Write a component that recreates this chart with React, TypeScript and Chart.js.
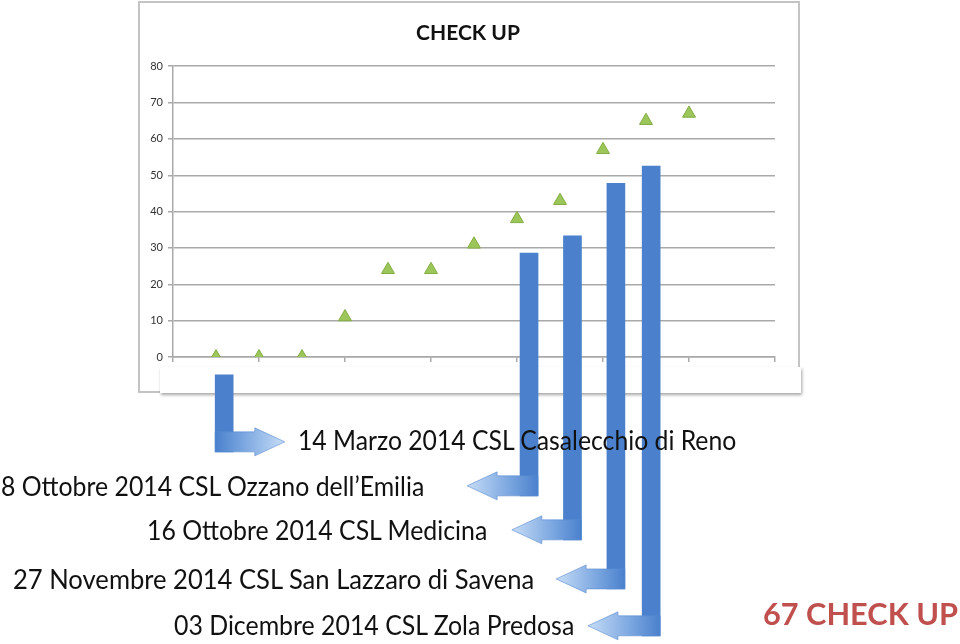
import React, { useEffect, useRef } from "react";
import { Chart, registerables } from "chart.js";

Chart.register(...registerables);

// ---- data ----
const checkupSlots = [1, 2, 3, 4, 5, 6, 7, 8, 9, 10, 11, 12];
const checkupTotals = [0, 0, 0, 11, 24, 24, 31, 38, 43, 57, 65, 67];
const yMin = 0;
const yMax = 80;
const yStep = 10;
const xMin = 0;
const xMax = 14;
const xStep = 2;

// elbow arrows (in chart units): slot of the vertical bar, top value, bottom value, arrow tip slot
const arrowSlot = [1.19, 8.28, 9.29, 10.3, 11.12];
const arrowTop = [-4.9, 28.6, 33.3, 47.8, 52.5];
const arrowBottom = [-26.1, -38.2, -50.3, -63.8, -76.7];
const arrowTip = [2.6, 6.84, 7.88, 8.91, 9.65];

const eventLabels = [
  "14 Marzo 2014 CSL Casalecchio di Reno",
  "8 Ottobre 2014 CSL Ozzano dell\u2019Emilia",
  "16 Ottobre 2014 CSL Medicina",
  "27 Novembre 2014 CSL San Lazzaro di Savena",
  "03 Dicembre 2014 CSL Zola Predosa",
];
const totalLabel = "67 CHECK UP";
const chartTitle = "CHECK UP";

// ---- layout of text overlays (pixels) ----
const labelBoxes = [
  { left: 298, right: 737, baseline: 450, size: 26 },
  { left: 1, right: 425, baseline: 496, size: 26 },
  { left: 147, right: 488, baseline: 540, size: 26 },
  { left: 13, right: 535, baseline: 589, size: 26 },
  { left: 174, right: 575, baseline: 635, size: 26 },
];
const totalBox = { left: 763, right: 958, baseline: 625, size: 31 };

const FONT = "Lato, 'Noto Sans', sans-serif";
const BAR_W = 18;

let measureCtx: CanvasRenderingContext2D | null = null;
function textWidth(text: string, font: string) {
  if (!measureCtx) measureCtx = document.createElement("canvas").getContext("2d");
  measureCtx!.font = font;
  return measureCtx!.measureText(text).width;
}

function FitText(props: { text: string; box: any; bold?: boolean; color: string }) {
  const { text, box, bold, color } = props;
  const weight = bold ? "700" : "400";
  const w = textWidth(text, `${weight} ${box.size}px Lato`);
  const sx = w > 0 ? (box.right - box.left) / w : 1;
  return (
    <div
      style={{
        position: "absolute",
        left: box.left,
        top: box.baseline - 0.887 * box.size,
        fontFamily: FONT,
        fontSize: box.size,
        fontWeight: bold ? 700 : 400,
        lineHeight: `${box.size}px`,
        color,
        whiteSpace: "nowrap",
        transform: `scaleX(${sx})`,
        transformOrigin: "left top",
        zIndex: 3,
      }}
    >
      {text}
    </div>
  );
}

const elbowPlugin = {
  id: "elbowArrows",
  afterDatasetsDraw(chart: any) {
    const xs = chart.scales.x;
    const ys = chart.scales.y;
    const ctx = chart.ctx as CanvasRenderingContext2D;
    ctx.save();
    arrowSlot.forEach((s, i) => {
      const cx = xs.getPixelForValue(s);
      const tip = xs.getPixelForValue(arrowTip[i]);
      const dir = tip > cx ? 1 : -1;
      const yb = ys.getPixelForValue(arrowBottom[i]);
      const armH = 20;
      const yc = yb - armH / 2;
      const back = cx - dir * (BAR_W / 2);
      const headLen = 30;
      const headHalf = 14;
      const base = tip - dir * headLen;
      const g = ctx.createLinearGradient(tip, 0, back, 0);
      g.addColorStop(0, "#c6dcf6");
      g.addColorStop(0.6, "#7aa6e0");
      g.addColorStop(1, "#4a80cc");
      ctx.fillStyle = g;
      ctx.beginPath();
      ctx.moveTo(back, yc - armH / 2);
      ctx.lineTo(base, yc - armH / 2);
      ctx.lineTo(base, yc - headHalf);
      ctx.lineTo(tip, yc);
      ctx.lineTo(base, yc + headHalf);
      ctx.lineTo(base, yc + armH / 2);
      ctx.lineTo(back, yc + armH / 2);
      ctx.closePath();
      ctx.fill();
      ctx.strokeStyle = "rgba(90,140,210,0.6)";
      ctx.lineWidth = 1;
      ctx.stroke();
    });
    ctx.restore();
  },
};

export default function App() {
  const ref = useRef<HTMLCanvasElement | null>(null);

  useEffect(() => {
    if (!ref.current) return;
    const chart = new Chart(ref.current, {
      type: "scatter",
      data: {
        datasets: [
          {
            type: "scatter",
            label: "Check up",
            data: checkupSlots.map((x, i) => ({ x, y: checkupTotals[i] })),
            pointStyle: "triangle",
            radius: 7.5,
            backgroundColor: "#9cc65a",
            borderColor: "#82ad42",
            borderWidth: 1,
            showLine: false,
            order: 0,
          } as any,
          {
            type: "bar",
            label: "Eventi",
            data: arrowSlot.map((x, i) => ({ x, y: [arrowBottom[i], arrowTop[i]] })),
            backgroundColor: "#4a80cc",
            barThickness: BAR_W,
            clip: false,
            order: 1,
          } as any,
        ],
      },
      options: {
        responsive: false,
        animation: false,
        layout: { padding: { left: 130, right: 154, top: 21, bottom: 279 } },
        plugins: {
          legend: { display: false },
          tooltip: { enabled: false },
          title: {
            display: true,
            text: chartTitle,
            color: "#111",
            font: { family: FONT, size: 21, weight: "bold" },
            padding: { top: 0, bottom: 20 },
          },
        },
        scales: {
          x: {
            type: "linear",
            min: xMin,
            max: xMax,
            offset: false,
            ticks: { stepSize: xStep, display: false },
            grid: {
              offset: false,
              drawOnChartArea: false,
              drawTicks: true,
              tickLength: 5,
              color: "#a9a9a9",
              lineWidth: 1.5,
            },
            border: { display: true, color: "#a9a9a9", width: 1.5 },
            afterFit: (s: any) => {
              s.height = 8;
            },
          },
          y: {
            min: yMin,
            max: yMax,
            beginAtZero: true,
            ticks: {
              stepSize: yStep,
              padding: 5,
              color: "#333",
              font: { family: FONT, size: 11 },
            },
            grid: { color: "#a9a9a9", lineWidth: 1.5, tickLength: 5 },
            border: { display: true, color: "#a9a9a9", width: 1.5 },
            afterFit: (s: any) => {
              s.width = 43;
            },
          },
          yRight: {
            type: "linear",
            position: "right",
            display: true,
            min: yMin,
            max: yMax,
            ticks: { display: false },
            grid: { display: false, drawTicks: false },
            border: { display: false },
            afterFit: (s: any) => {
              s.width = 31;
            },
          },
        },
      } as any,
      plugins: [elbowPlugin],
    });
    return () => chart.destroy();
  }, []);

  return (
    <div
      style={{
        position: "fixed",
        left: 0,
        top: 0,
        width: 960,
        height: 644,
        background: "#fff",
        overflow: "hidden",
      }}
    >
      <div
        style={{
          position: "absolute",
          left: 138,
          top: 1,
          width: 662,
          height: 392,
          boxSizing: "border-box",
          border: "2px solid #c4c4c4",
          zIndex: 0,
        }}
      />
      <div
        style={{
          position: "absolute",
          left: 160,
          top: 367,
          width: 641,
          height: 26,
          background: "#fff",
          boxShadow: "1px 2px 3px rgba(0,0,0,0.35)",
          zIndex: 1,
        }}
      />
      <canvas
        ref={ref}
        width={960}
        height={644}
        style={{ position: "absolute", left: 0, top: 0, width: 960, height: 644, zIndex: 2 }}
      />
      {eventLabels.map((t, i) => (
        <FitText key={i} text={t} box={labelBoxes[i]} color="#111" />
      ))}
      <FitText text={totalLabel} box={totalBox} bold color="#c0504d" />
    </div>
  );
}
